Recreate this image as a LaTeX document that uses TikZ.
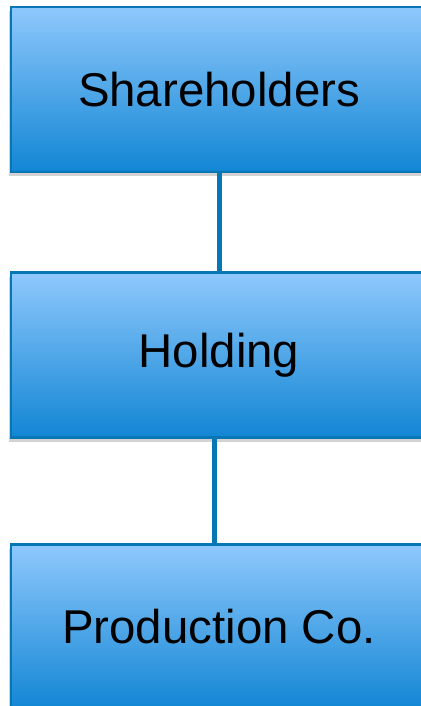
\documentclass[tikz,border=0pt]{standalone}
\usepackage{fontspec}
\setmainfont{Liberation Sans}
\usetikzlibrary{shadows}

\definecolor{boxtop}{RGB}{142,200,252}
\definecolor{boxbot}{RGB}{18,134,212}
\definecolor{boxline}{RGB}{6,118,180}

\begin{document}
\begin{tikzpicture}[x=.5pt,y=.5pt,
	entity/.style={draw=boxline,line width=1.3pt,top color=boxtop,bottom color=boxbot,
		minimum width=208pt,minimum height=82.5pt,inner sep=0pt,
		font=\fontsize{23.7}{28}\selectfont,
		drop shadow={shadow xshift=-1.2pt,shadow yshift=-2pt,opacity=.35,fill=black!50}},
	link/.style={draw=boxline,line width=2.5pt}]
				\useasboundingbox (0,0) rectangle (421,-706);

				\node[entity] (share) at (219,-89.5) {Shareholders};
				\node[entity] (hold) at (219,-355) {Holding};
				\node[entity] (prod) at (219,-627) {Production Co.};

				\draw[link] (share.south) -- (hold.north);
				\draw[link] ([xshift=-2.5pt]hold.south) -- ([xshift=-2.5pt]prod.north);
			\end{tikzpicture}
\end{document}
